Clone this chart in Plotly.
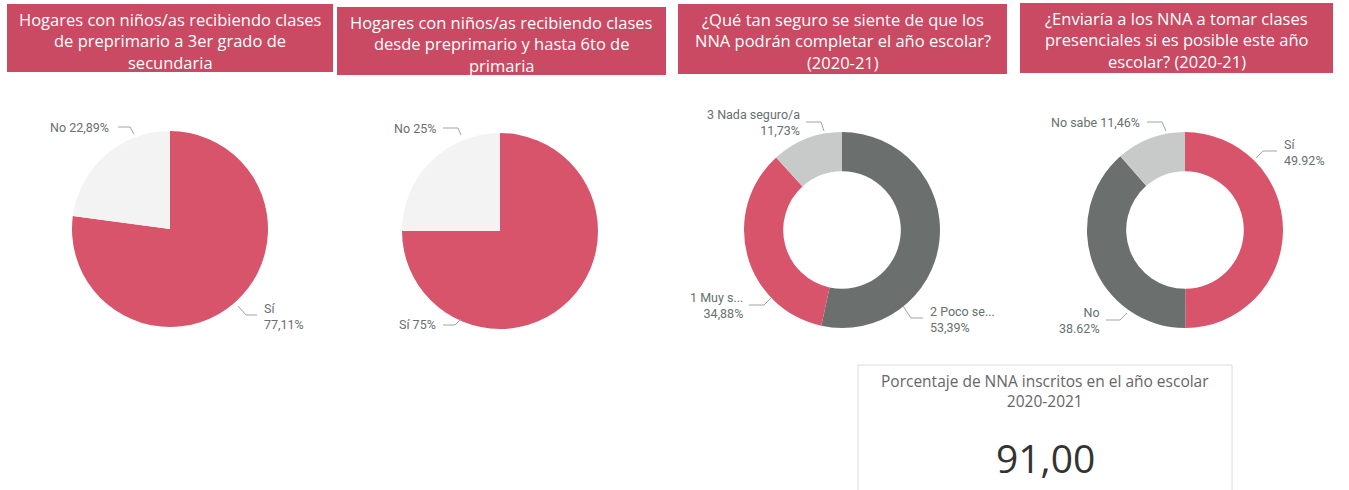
import plotly.graph_objects as go

W, H = 1349, 490

# ---------------- data ----------------
pie1_labels = ["Sí", "No"]
pie1_values = [77.11, 22.89]
pie2_labels = ["Sí", "No"]
pie2_values = [75, 25]
d3_labels = ["2 Poco seguro/a", "1 Muy seguro/a", "3 Nada seguro/a"]
d3_values = [53.39, 34.88, 11.73]
d4_labels = ["Sí", "No", "No sabe"]
d4_values = [49.92, 38.62, 11.46]
kpi_title = "Porcentaje de NNA inscritos en el año escolar<br>2020-2021"
kpi_value = "91,00"

titles = [
    ["Hogares con niños/as recibiendo clases", "de preprimario a 3er grado de", "secundaria"],
    ["Hogares con niños/as recibiendo clases", "desde preprimario y hasta 6to de", "primaria"],
    ["¿Qué tan seguro se siente de que los", "NNA podrán completar el año escolar?", "(2020-21)"],
    ["¿Enviaría a los NNA a tomar clases", "presenciales si es posible este año", "escolar? (2020-21)"],
]

# ---------------- styles ----------------
RED = "#d7546a"
BOX = "#c94a62"
WHITE_SL = "#f3f3f3"
DARK = "#6b706f"
LIGHT = "#c7cac9"
LBL = "#66706e"
LINE = "#9ea6a4"


def dom(cx, cy, r):
    return dict(x=[(cx - r) / W, (cx + r) / W], y=[1 - (cy + r) / H, 1 - (cy - r) / H])


fig = go.Figure()

pies = [
    (pie1_labels, pie1_values, [RED, WHITE_SL], 0, (170, 229, 98)),
    (pie2_labels, pie2_values, [RED, WHITE_SL], 0, (500, 231, 98)),
    (d3_labels, d3_values, [DARK, RED, LIGHT], 0.6, (842, 230, 98)),
    (d4_labels, d4_values, [RED, DARK, LIGHT], 0.6, (1185, 230, 98)),
]
for labels, values, colors, hole, (cx, cy, r) in pies:
    fig.add_trace(go.Pie(
        labels=labels, values=values, hole=hole, sort=False,
        direction="clockwise", rotation=0, textinfo="none",
        marker=dict(colors=colors, line=dict(width=0)),
        domain=dom(cx, cy, r), showlegend=False,
    ))

# invisible pixel-coordinate axes for decorations
fig.update_xaxes(range=[0, W], visible=False, fixedrange=True)
fig.update_yaxes(range=[H, 0], visible=False, fixedrange=True)

shapes = []
annotations = []

# title boxes
boxes = [(7, 4, 333, 72), (337, 7, 666, 75), (678, 4, 1007, 74), (1020, 3, 1333, 73)]
for (x0, y0, x1, y1), lines in zip(boxes, titles):
    shapes.append(dict(type="rect", xref="x", yref="y", x0=x0, y0=y0, x1=x1, y1=y1,
                       fillcolor=BOX, line=dict(width=0), layer="below"))
    cx = (x0 + x1) / 2
    for i, t in enumerate(lines):
        annotations.append(dict(x=cx, y=y0 + 15 + i * 21.5, xref="x", yref="y", text=t,
                                showarrow=False, xanchor="center", yanchor="middle",
                                font=dict(family="Open Sans", size=16.5, color="white")))

# data labels
labels_pos = [
    ("No 22,89%", 111, 127, "right"),
    ("Sí<br>77,11%", 262, 316, "left"),
    ("No 25%", 438, 128, "right"),
    ("Sí 75%", 438, 324, "right"),
    ("3 Nada seguro/a<br>11,73%", 802, 122, "right"),
    ("1 Muy s...<br>34,88%", 745, 305, "right"),
    ("2 Poco se...<br>53,39%", 928, 319, "left"),
    ("No sabe 11,46%", 1142, 122, "right"),
    ("Sí<br>49.92%", 1282, 152, "left"),
    ("No<br>38.62%", 1102, 320, "right"),
]
for t, x, y, anc in labels_pos:
    annotations.append(dict(x=x, y=y, xref="x", yref="y", text=t, showarrow=False,
                            xanchor=anc, yanchor="middle", align=anc,
                            font=dict(family="Roboto", size=12.5, color=LBL)))

leaders = [
    [(118, 127), (130, 127), (134, 134)],
    [(238, 306), (246, 315), (257, 315)],
    [(443, 128), (458, 128), (461, 135)],
    [(443, 325), (455, 325), (461, 319)],
    [(806, 122), (821, 122), (824, 131)],
    [(749, 305), (764, 305), (771, 298)],
    [(903, 306), (911, 318), (923, 318)],
    [(1147, 122), (1162, 122), (1166, 131)],
    [(1256, 158), (1263, 151), (1277, 151)],
    [(1106, 320), (1120, 320), (1127, 313)],
]
for pts in leaders:
    path = "M " + " L ".join(f"{x},{y}" for x, y in pts)
    shapes.append(dict(type="path", xref="x", yref="y", path=path,
                       line=dict(color=LINE, width=1)))

# KPI card
shapes.append(dict(type="rect", xref="x", yref="y", x0=858, y0=365, x1=1232, y1=500,
                   fillcolor="white", line=dict(color="#dcdcdc", width=1), layer="below"))
annotations.append(dict(x=1045, y=391, xref="x", yref="y", text=kpi_title, showarrow=False,
                        xanchor="center", yanchor="middle", align="center",
                        font=dict(family="Open Sans", size=15.5, color="#666666")))
annotations.append(dict(x=1045, y=457, xref="x", yref="y", text=kpi_value, showarrow=False,
                        xanchor="center", yanchor="middle",
                        font=dict(family="Open Sans", size=39, color="#333333")))

fig.update_layout(
    width=W, height=H, autosize=False,
    margin=dict(l=0, r=0, t=0, b=0),
    paper_bgcolor="white", plot_bgcolor="white",
    shapes=shapes, annotations=annotations,
)

fig.write_html("out.html", config={"displayModeBar": False},
               post_script="document.body.style.margin='0';document.body.style.overflow='hidden';")
